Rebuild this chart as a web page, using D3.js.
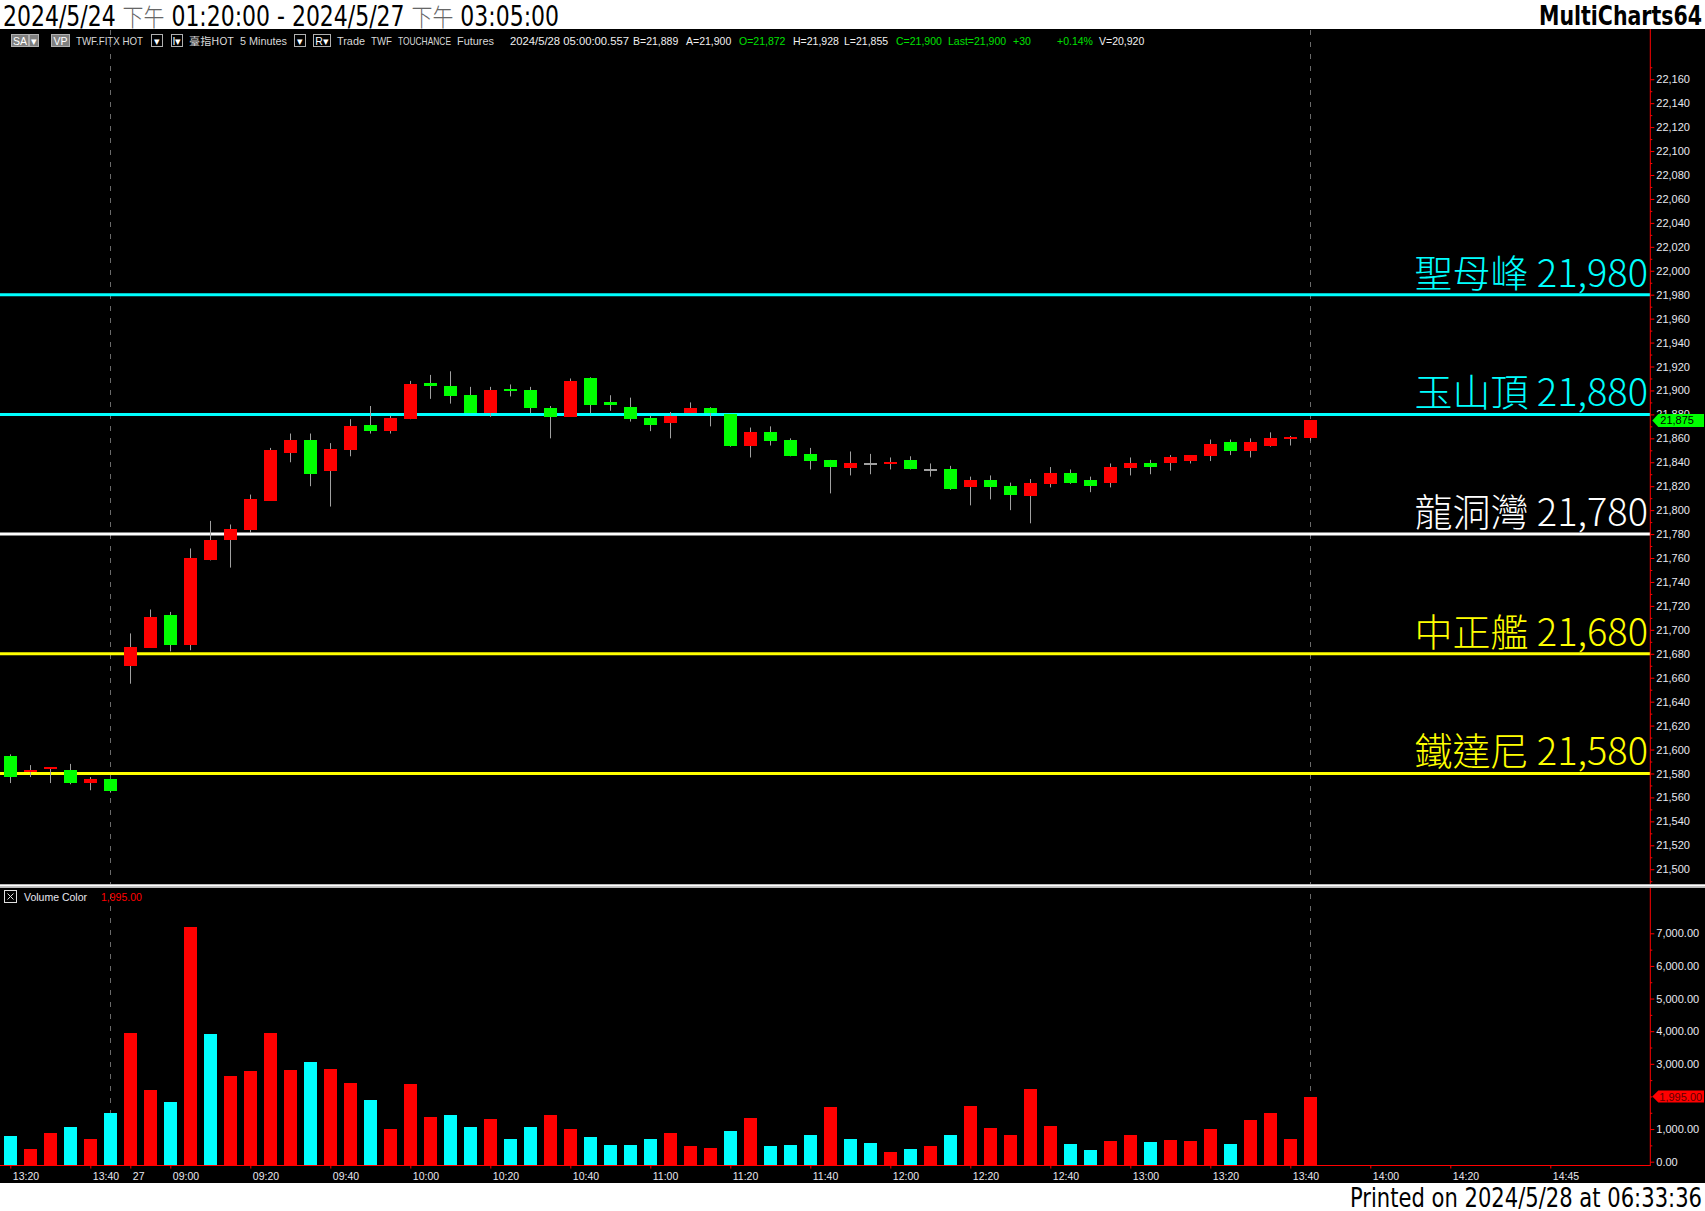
<!DOCTYPE html>
<html><head><meta charset="utf-8">
<script src="https://cdn.jsdelivr.net/npm/d3@7"></script>
<style>body{margin:0;background:#fff;overflow:hidden} svg{display:block}</style>
</head><body>
<script>
// ---------- DATA ----------
const barTimes = ["13:20","13:25","13:30","13:35","13:40","13:45",
  "08:50","08:55","09:00","09:05","09:10","09:15","09:20","09:25","09:30","09:35","09:40","09:45",
  "09:50","09:55","10:00","10:05","10:10","10:15","10:20","10:25","10:30","10:35","10:40","10:45",
  "10:50","10:55","11:00","11:05","11:10","11:15","11:20","11:25","11:30","11:35","11:40","11:45",
  "11:50","11:55","12:00","12:05","12:10","12:15","12:20","12:25","12:30","12:35","12:40","12:45",
  "12:50","12:55","13:00","13:05","13:10","13:15","13:20","13:25","13:30","13:35","13:40","13:45"];
const openV  = [21595,21581,21584,21583,21572,21575,21670,21685,21712,21687,21758,21775,21783,21808,21848,21859,21833,21850,
  21871,21866,21876,21906,21904,21896,21881,21901,21900,21885,21878,21910,21890,21886,21877,21873,21881,21885,21880,21854,
  21865,21859,21847,21842,21835,21839,21839,21842,21834,21834,21819,21825,21820,21812,21822,21831,21825,21823,21835,21839,
  21839,21841,21845,21857,21849,21854,21860,21860];
const highV  = [21596,21587,21585,21588,21577,21575,21697,21717,21715,21768,21791,21788,21813,21852,21864,21864,21856,21876,
  21887,21879,21908,21913,21916,21903,21903,21905,21903,21887,21910,21911,21896,21894,21879,21882,21890,21886,21880,21869,
  21870,21860,21852,21842,21849,21847,21844,21845,21839,21837,21828,21829,21823,21826,21836,21834,21828,21839,21844,21842,
  21846,21846,21859,21859,21860,21865,21862,21875];
const lowV   = [21572,21577,21572,21571,21566,21564,21655,21685,21682,21683,21758,21752,21781,21808,21840,21820,21803,21845,
  21864,21864,21876,21893,21889,21881,21878,21895,21881,21860,21878,21881,21883,21874,21866,21860,21881,21870,21853,21844,
  21854,21845,21834,21814,21829,21830,21834,21834,21828,21817,21804,21809,21800,21789,21819,21822,21815,21819,21829,21830,
  21833,21839,21841,21846,21844,21853,21854,21858];
const closeV = [21577,21583,21585,21572,21575,21565,21686,21711,21687,21760,21775,21784,21809,21850,21859,21830,21851,21870,
  21866,21877,21905,21904,21895,21881,21900,21900,21885,21878,21908,21888,21888,21876,21871,21879,21885,21881,21854,21865,
  21858,21845,21841,21836,21839,21839,21840,21834,21834,21818,21825,21819,21813,21823,21831,21823,21820,21836,21839,21836,
  21844,21846,21855,21849,21857,21860,21861,21875];
const volumeV = [800,400,870,1070,700,1500,3930,2200,1830,7200,3900,2630,2770,3930,2800,3070,2830,2400,
  1900,1000,2370,1370,1430,1070,1300,700,1070,1430,1000,770,500,500,700,870,470,430,930,1330,
  470,500,830,1670,700,570,300,400,470,830,1700,1030,830,2230,1100,530,370,630,830,600,
  670,630,1000,530,1270,1500,700,1995];
// 1 = up volume (red), 0 = down volume (cyan)
const volumeUp = [0,1,1,0,1,0,1,1,0,1,0,1,1,1,1,0,1,1,
  0,1,1,1,0,0,1,0,0,1,1,0,0,0,0,1,1,1,0,1,
  0,0,0,1,0,0,1,0,1,0,1,1,1,1,1,0,0,1,1,0,
  1,1,1,0,1,1,1,1];
const tickIndex  = [0,4,6,8,12,16,20,24,28,32,36,40,44,48,52,56,60,64,68,72,77];
const tickLabels = ["13:20","13:40","27","09:00","09:20","09:40","10:00","10:20","10:40","11:00","11:20","11:40",
  "12:00","12:20","12:40","13:00","13:20","13:40","14:00","14:20","14:45"];
const levelNames  = ["聖母峰","玉山頂","龍洞灣","中正艦","鐵達尼"];
const levelValues = [21980,21880,21780,21680,21580];
const sessionBreaks = [5,65];
const lastPrice = 21875;
const lastVolume = 1995;
const priceTicks = d3.range(21500, 22161, 20);
const volumeTicks = [0,1000,3000,4000,5000,6000,7000];

// ---------- STYLE / LAYOUT ----------
const W = 1705, H = 1211;
const axisX = 1650.3;
const levelColor = v => v >= 21880 ? "#00ffff" : (v === 21780 ? "#ffffff" : "#ffff00");
const UP = "#ff0000", DOWN = "#00ff00", WICK = "#a0a0a0";
const narrow = "'Liberation Sans Narrow','DejaVu Sans Condensed','Liberation Sans',sans-serif";
const sans = "'Liberation Sans',Arial,sans-serif";

const svg = d3.select("body").append("svg").attr("width", W).attr("height", H);
svg.append("rect").attr("width", W).attr("height", H).attr("fill", "#fff");
svg.append("rect").attr("x", 0).attr("y", 29).attr("width", W).attr("height", 1183 - 29).attr("fill", "#000");

const x = d3.scaleLinear().domain([0, 82]).range([10.3, 1650.3]);
const y = d3.scaleLinear().domain([21487, 22180]).range([884.8, 55.3]);
const yv = d3.scaleLinear().domain([0, 7000]).range([1161.7, 933.3]);
const px = i => Math.round(x(i)) + 0.5;

// ---------- HEADER ----------
const title = svg.append("text").attr("x", 3).attr("y", 26).attr("font-family", narrow)
  .attr("font-size", 28).attr("fill", "#000").attr("textLength", 556).attr("lengthAdjust", "spacingAndGlyphs");
[["2024/5/24 ", "#000"], ["下午", "#666"], [" 01:20:00 - 2024/5/27 ", "#000"], ["下午", "#666"], [" 03:05:00", "#000"]]
  .forEach(([t, c]) => {
    const cjk = t.includes("下");
    title.append("tspan").attr("fill", c)
      .attr("font-family", cjk ? "'Noto Sans CJK TC',sans-serif" : narrow)
      .attr("font-size", cjk ? 24 : 28).attr("font-weight", cjk ? 300 : 400).text(t);
  });
svg.append("text").attr("x", 1702).attr("y", 25).attr("text-anchor", "end").attr("font-family", narrow)
  .attr("font-weight", "bold").attr("font-size", 26).attr("textLength", 163).attr("lengthAdjust", "spacingAndGlyphs").text("MultiCharts64");

// toolbar
const tb = svg.append("g").attr("font-family", sans).attr("font-size", 10.5);
const tbY = 45;
function box(x0, w, label, fill) {
  tb.append("rect").attr("x", x0).attr("y", 34.5).attr("width", w).attr("height", 12).attr("fill", fill || "#000")
    .attr("stroke", "#b0b0b0").attr("stroke-width", 1);
  if (label) tb.append("text").attr("x", x0 + w / 2).attr("y", tbY - 0.5).attr("text-anchor", "middle").attr("fill", "#fff").text(label);
}
box(11.5, 17, "SA", "#808080"); box(29.5, 9, "▾", "#808080");
box(51.5, 18, "VP", "#808080");
box(151.5, 11, "▾"); box(171.5, 11, "I▾"); box(294.5, 11, "▾"); box(313.5, 17, "R▾");
// [x, text, colour, width]
const tbItems = [
  [76, "TWF.FITX HOT", "#d8d8d8", 67], [189, "臺指HOT", "#d8d8d8", 45], [240, "5 Minutes", "#d8d8d8", 47],
  [337, "Trade", "#d8d8d8", 28], [371, "TWF", "#d8d8d8", 21], [398, "TOUCHANCE", "#d8d8d8", 53], [457, "Futures", "#d8d8d8", 37],
  [510, "2024/5/28  05:00:00.557", "#f0f0f0", 119], [633, "B=21,889", "#f0f0f0", 0], [686, "A=21,900", "#f0f0f0", 0],
  [739, "O=21,872", "#00e000", 0], [793, "H=21,928", "#f0f0f0", 0], [844, "L=21,855", "#f0f0f0", 0],
  [896, "C=21,900", "#00e000", 0], [948, "Last=21,900", "#00e000", 0], [1013, "+30", "#00e000", 0],
  [1057, "+0.14%", "#00e000", 0], [1099, "V=20,920", "#f0f0f0", 0]];
tbItems.forEach(([xx, t, c, w]) => {
  const tx = tb.append("text").attr("x", xx).attr("y", tbY).attr("fill", c)
    .attr("font-family", t.includes("臺") ? "'Noto Sans CJK TC',sans-serif" : sans).text(t);
  if (w) tx.attr("textLength", w).attr("lengthAdjust", "spacingAndGlyphs");
});

// ---------- SESSION BREAKS ----------
svg.append("g").selectAll("line").data(sessionBreaks).join("line")
  .attr("x1", d => px(d)).attr("x2", d => px(d)).attr("y1", 30).attr("y2", 1165)
  .attr("stroke", "#6a6a6a").attr("stroke-dasharray", "5,7");

// ---------- LEVEL LINES ----------
const lv = svg.append("g");
lv.selectAll("line").data(levelValues).join("line")
  .attr("x1", 0).attr("x2", axisX).attr("y1", d => y(d)).attr("y2", d => y(d))
  .attr("stroke", levelColor).attr("stroke-width", 3);
lv.selectAll("text").data(levelValues).join("text")
  .attr("x", 1648).attr("y", d => y(d) - 8).attr("text-anchor", "end")
  .attr("font-family", "'Noto Sans CJK TC','Noto Sans',sans-serif").attr("font-weight", 300).attr("font-size", 38)
  .attr("fill", levelColor).text((d, i) => levelNames[i] + " " + d3.format(",")(d));

// ---------- CANDLES ----------
const cg = svg.append("g");
const bars = closeV.map((c, i) => ({ i, o: openV[i], h: highV[i], l: lowV[i], c }));
cg.selectAll("line.w").data(bars).join("line").attr("class", "w")
  .attr("x1", d => px(d.i)).attr("x2", d => px(d.i)).attr("y1", d => y(d.h)).attr("y2", d => y(d.l))
  .attr("stroke", WICK).attr("stroke-width", 1);
cg.selectAll("rect").data(bars).join("rect")
  .attr("x", d => Math.round(x(d.i)) - 6).attr("width", 13)
  .attr("y", d => Math.round(y(Math.max(d.o, d.c))))
  .attr("height", d => Math.max(2, Math.round(y(Math.min(d.o, d.c))) - Math.round(y(Math.max(d.o, d.c)))))
  .attr("fill", d => d.c > d.o ? UP : (d.c < d.o ? DOWN : WICK))
  .attr("shape-rendering", "crispEdges");

// ---------- PRICE AXIS ----------
svg.append("line").attr("x1", axisX).attr("x2", axisX).attr("y1", 29).attr("y2", 1166).attr("stroke", "#ff0000");
const pa = svg.append("g").attr("transform", `translate(${axisX},0)`)
  .call(d3.axisRight(y).tickValues(priceTicks).tickFormat(d3.format(",")).tickSize(4).tickPadding(2));
pa.select(".domain").remove();
pa.selectAll("line").attr("stroke", "#ff0000");
pa.selectAll("text").attr("fill", "#e8e8f0").attr("font-family", sans).attr("font-size", 11);
const pm = svg.append("g").attr("transform", `translate(${axisX},0)`)
  .call(d3.axisRight(y).tickValues(d3.range(21490, 22180, 20)).tickFormat("").tickSize(2));
pm.select(".domain").remove(); pm.selectAll("line").attr("stroke", "#ff0000");

// last price marker
const lpY = y(lastPrice);
svg.append("path").attr("d", `M${axisX + 2},${lpY} L${axisX + 8},${lpY - 6.5} H1704 V${lpY + 6.5} H${axisX + 8} Z`).attr("fill", "#00ff00");
svg.append("text").attr("x", axisX + 10).attr("y", lpY + 4).attr("font-family", sans).attr("font-size", 11).attr("fill", "#000").text(d3.format(",")(lastPrice));

// ---------- PANE SEPARATOR ----------
svg.append("rect").attr("x", 0).attr("y", 884).attr("width", W).attr("height", 4).attr("fill", "#b8b8b8");
svg.append("rect").attr("x", 0).attr("y", 885).attr("width", W).attr("height", 1.2).attr("fill", "#ffffff");

// ---------- VOLUME PANE ----------
svg.append("rect").attr("x", 4.5).attr("y", 890.5).attr("width", 12).attr("height", 12).attr("fill", "none").attr("stroke", "#e0e0e0");
svg.append("path").attr("d", "M7.5,893.5 L13.5,899.5 M13.5,893.5 L7.5,899.5").attr("stroke", "#e0e0e0");
svg.append("text").attr("x", 24).attr("y", 901).attr("font-family", sans).attr("font-size", 10.5).attr("fill", "#e8e8f0").text("Volume Color");
svg.append("text").attr("x", 101).attr("y", 901).attr("font-family", sans).attr("font-size", 10.5).attr("fill", "#ff0000").text(d3.format(",.2f")(lastVolume));

svg.append("g").selectAll("rect").data(volumeV).join("rect")
  .attr("x", (d, i) => Math.round(x(i)) - 6).attr("width", 13)
  .attr("y", d => Math.round(yv(d))).attr("height", d => Math.round(yv(0)) + 3 - Math.round(yv(d)))
  .attr("fill", (d, i) => volumeUp[i] ? "#ff0000" : "#00ffff").attr("shape-rendering", "crispEdges");

const va = svg.append("g").attr("transform", `translate(${axisX},0)`)
  .call(d3.axisRight(yv).tickValues(volumeTicks).tickFormat(d3.format(",.2f")).tickSize(4).tickPadding(2));
va.select(".domain").remove();
va.selectAll("line").attr("stroke", "#ff0000");
va.selectAll("text").attr("fill", "#e8e8f0").attr("font-family", sans).attr("font-size", 11);
const vm = svg.append("g").attr("transform", `translate(${axisX},0)`)
  .call(d3.axisRight(yv).tickValues([500,1500,2000,2500,3500,4500,5500,6500]).tickFormat("").tickSize(2));
vm.select(".domain").remove(); vm.selectAll("line").attr("stroke", "#ff0000");

const lvY = yv(lastVolume);
svg.append("path").attr("d", `M${axisX + 2},${lvY} L${axisX + 8},${lvY - 6} H1704 V${lvY + 6} H${axisX + 8} Z`).attr("fill", "#ff0000");
svg.append("text").attr("x", axisX + 9).attr("y", lvY + 4).attr("font-family", sans).attr("font-size", 11).attr("fill", "#600000").text(d3.format(",.2f")(lastVolume));

// ---------- TIME AXIS ----------
svg.append("line").attr("x1", 0).attr("x2", axisX).attr("y1", 1165.5).attr("y2", 1165.5).attr("stroke", "#ff0000");
const ta = svg.append("g").attr("transform", "translate(0,1165.5)")
  .call(d3.axisBottom(x).tickValues(tickIndex).tickFormat((d, i) => tickLabels[i]).tickSize(3).tickPadding(4));
ta.select(".domain").remove();
ta.selectAll("line").attr("stroke", "#ff0000");
ta.selectAll("text").attr("fill", "#e8e8f0").attr("font-family", sans).attr("font-size", 10.5)
  .attr("text-anchor", "start").attr("dx", 2);

// ---------- FOOTER ----------
svg.append("text").attr("x", 1702).attr("y", 1207).attr("text-anchor", "end").attr("font-family", narrow)
  .attr("font-size", 26).attr("fill", "#000").attr("textLength", 352).attr("lengthAdjust", "spacingAndGlyphs")
  .text("Printed on 2024/5/28 at 06:33:36");
</script>
</body></html>
